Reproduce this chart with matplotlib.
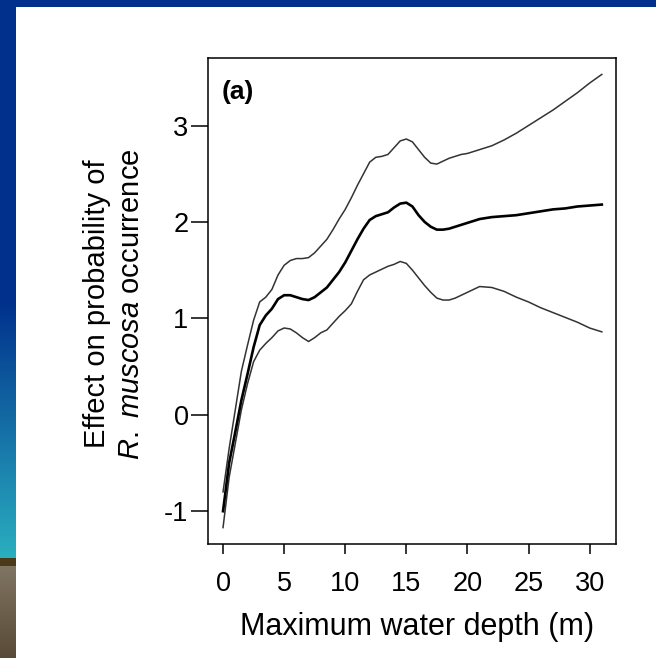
import numpy as np
import matplotlib.pyplot as plt

plt.rcParams['font.family'] = ['Liberation Sans', 'DejaVu Sans']
plt.rcParams['axes.unicode_minus'] = False
plt.rcParams['mathtext.fontset'] = 'custom'
plt.rcParams['mathtext.it'] = 'Liberation Sans:italic'
plt.rcParams['mathtext.rm'] = 'Liberation Sans'

# water depth (m)
depth = [0, 0.5, 1, 1.5, 2, 2.5, 3, 3.5, 4, 4.5, 5, 5.5, 6, 6.5, 7, 7.5, 8, 8.5,
         9, 9.5, 10, 10.5, 11, 11.5, 12, 12.5, 13, 13.5, 14, 14.5, 15, 15.5, 16,
         16.5, 17, 17.5, 18, 18.5, 19, 19.5, 20, 21, 22, 23, 24, 25, 26, 27, 28,
         29, 30, 31]

# fitted effect
fit = [-1.0, -0.5, -0.18, 0.15, 0.42, 0.7, 0.93, 1.03, 1.1, 1.2, 1.24, 1.24,
       1.22, 1.2, 1.19, 1.22, 1.27, 1.32, 1.4, 1.48, 1.58, 1.7, 1.82, 1.93,
       2.02, 2.06, 2.08, 2.1, 2.15, 2.19, 2.2, 2.16, 2.07, 2.0, 1.95, 1.92,
       1.92, 1.93, 1.95, 1.97, 1.99, 2.03, 2.05, 2.06, 2.07, 2.09, 2.11, 2.13,
       2.14, 2.16, 2.17, 2.18]

# upper band
upper = [-0.8, -0.35, 0.05, 0.45, 0.72, 0.98, 1.17, 1.22, 1.3, 1.45, 1.55, 1.6,
         1.62, 1.62, 1.63, 1.68, 1.75, 1.82, 1.92, 2.03, 2.13, 2.25, 2.38, 2.5,
         2.62, 2.67, 2.68, 2.7, 2.77, 2.84, 2.86, 2.83, 2.75, 2.67, 2.61, 2.6,
         2.63, 2.66, 2.68, 2.7, 2.71, 2.75, 2.79, 2.85, 2.92, 3.0, 3.08, 3.16,
         3.25, 3.34, 3.44, 3.53]

# lower band
lower = [-1.17, -0.65, -0.3, 0.05, 0.32, 0.55, 0.67, 0.74, 0.8, 0.87, 0.9, 0.89,
         0.85, 0.8, 0.76, 0.8, 0.85, 0.88, 0.95, 1.02, 1.08, 1.15, 1.28, 1.4,
         1.45, 1.48, 1.51, 1.54, 1.56, 1.59, 1.57, 1.5, 1.42, 1.34, 1.27, 1.21,
         1.19, 1.19, 1.21, 1.24, 1.27, 1.33, 1.32, 1.28, 1.22, 1.17, 1.11, 1.06,
         1.01, 0.96, 0.9, 0.86]

W, H = 656, 658
fig = plt.figure(figsize=(W / 100, H / 100), dpi=100)

# slide background: blue bar on top, gradient strip on the left
bg = fig.add_axes([0, 0, 1, 1], zorder=-1)
bg.set_xlim(0, W)
bg.set_ylim(H, 0)
bg.axis('off')
navy = np.array([0, 48, 140]) / 255
teal = np.array([42, 175, 192]) / 255
strip = np.zeros((H, 1, 3))
for i in range(H):
    if i < 300:
        strip[i, 0] = navy
    elif i < 558:
        t = (i - 300) / 258
        strip[i, 0] = navy * (1 - t) + teal * t
    elif i < 566:
        strip[i, 0] = np.array([74, 58, 24]) / 255
    else:
        t = (i - 566) / (H - 566)
        strip[i, 0] = (np.array([128, 116, 98]) * (1 - t) + np.array([88, 74, 54]) * t) / 255
bg.imshow(strip, extent=[0, 16, H, 0], aspect='auto')
bg.add_patch(plt.Rectangle((0, 0), W, 7, color=navy, lw=0))

ax = fig.add_axes([208 / W, 1 - 544 / H, 408 / W, 486 / H])
ax.plot(depth, upper, color='#333333', lw=1.1)
ax.plot(depth, lower, color='#333333', lw=1.1)
ax.plot(depth, fit, color='black', lw=1.9)

ax.set_xlim(-1.23, 32.16)
ax.set_ylim(-1.34, 3.70)
ax.set_xticks([0, 5, 10, 15, 20, 25, 30])
ax.set_yticks([-1, 0, 1, 2, 3])
for s in ax.spines.values():
    s.set_linewidth(1.1)
ax.tick_params(axis='x', direction='out', length=7.5, width=1.1, labelsize=19.5, pad=12)
ax.tick_params(axis='y', direction='out', length=12, width=1.1, labelsize=19.5, pad=2)

ax.text(0.034, 0.93, '(a)', transform=ax.transAxes, fontsize=19,
        fontweight='bold', ha='left', va='center')

fig.text(417 / W, 1 - 635 / H, 'Maximum water depth (m)', fontsize=22,
         ha='center', va='baseline')
fig.text(114 / W, 1 - 304 / H,
         'Effect on probability of\n$\\mathit{R.}$ $\\mathit{muscosa}$ occurrence',
         rotation=90, fontsize=21, ha='center', va='center',
         multialignment='center', linespacing=1.3)

fig.savefig('out.png', dpi=100)
